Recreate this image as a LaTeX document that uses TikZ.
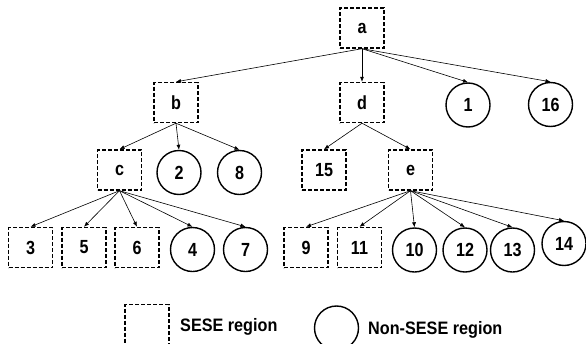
\documentclass[tikz,border=0pt]{standalone}
\usepackage{fontspec}
\newfontfamily\lab{Liberation Sans}[FakeStretch=0.85]
\newfontfamily\leg{Liberation Sans}[FakeStretch=0.9]
\usetikzlibrary{arrows.meta}
\begin{document}
\begin{tikzpicture}[x=1pt,y=-1pt,
  lbl/.style={font=\lab\bfseries\fontsize{19}{19}\selectfont},
  leglbl/.style={font=\leg\bfseries\fontsize{18}{18}\selectfont},
  sese/.style={draw, line width=1.4pt, dash pattern=on 4pt off 2pt, minimum width=44pt, minimum height=40pt, inner sep=0pt, lbl},
  nsese/.style={draw, circle, line width=1.4pt, minimum size=44pt, inner sep=0pt, lbl},
  edge/.style={-{Latex[length=5pt,width=4pt]}, line width=0.6pt}]
\useasboundingbox (0,0) rectangle (586,343);
\clip (0,0) rectangle (586,343);
% level 0
\node[sese] (a) at (362,28) {a};
% level 1
\node[sese] (b) at (176,102.5) {b};
\node[sese] (d) at (362,102.5) {d};
\node[nsese] (n1) at (468,105) {1};
\node[nsese] (n16) at (550.5,104.5) {16};
% level 2
\node[sese] (c) at (119.5,170) {c};
\node[nsese] (n2) at (179,172.5) {2};
\node[nsese] (n8) at (239.5,172.5) {8};
\node[sese] (n15) at (324,170) {15};
\node[sese] (e) at (410.5,170) {e};
% level 3
\node[sese] (n3) at (30.5,247.5) {3};
\node[sese] (n5) at (84,247.5) {5};
\node[sese] (n6) at (137,247.5) {6};
\node[nsese] (n4) at (192.5,249.5) {4};
\node[nsese] (n7) at (245.5,249.5) {7};
\node[sese] (n9) at (306,247.5) {9};
\node[sese] (n11) at (359.5,247.5) {11};
\node[nsese] (n10) at (414.5,250) {10};
\node[nsese] (n12) at (465,250) {12};
\node[nsese] (n13) at (512.5,250) {13};
\node[nsese] (n14) at (564,243.5) {14};
% edges
\foreach \t in {b,d,n1,n16} \draw[edge] (a.south) -- (\t.north);
\foreach \t in {c,n2,n8} \draw[edge] (b.south) -- (\t.north);
\foreach \t in {n15,e} \draw[edge] (d.south) -- (\t.north);
\foreach \t in {n3,n5,n6,n4,n7} \draw[edge] (c.south) -- (\t.north);
\foreach \t in {n9,n11,n10,n12,n13,n14} \draw[edge] (e.south) -- (\t.north);
% legend
\node[sese] (legbox) at (147,324.5) {};
\node[leglbl, anchor=west, inner sep=0pt] (legtext1) at (180,327) {SESE region};
\node[nsese] (legcirc) at (336.5,328) {};
\node[leglbl, anchor=west, inner sep=0pt] (legtext2) at (368,330) {Non-SESE region};
\end{tikzpicture}
\end{document}
